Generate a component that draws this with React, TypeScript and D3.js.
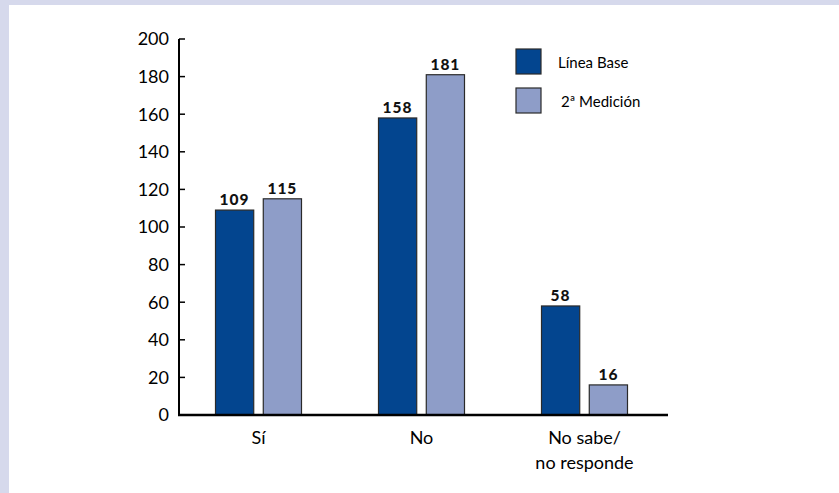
import React from "react";
import * as d3 from "d3";

const categories = ["Sí", "No", "No sabe/\nno responde"];
const seriesNames = ["Línea Base", "2ª Medición"];
const lineaBase = [109, 158, 58];
const segundaMedicion = [115, 181, 16];
const yTicks = [0, 20, 40, 60, 80, 100, 120, 140, 160, 180, 200];
const colors = ["#03458f", "#8e9dc8"];

const W = 839;
const H = 493;
const FONT = "Lato, 'Open Sans', sans-serif";

export default function App() {
  const axisX0 = 179;
  const axisX1 = 668;
  const y = d3.scaleLinear().domain([0, 200]).range([415, 39]);
  const x = d3.scaleBand<string>().domain(categories).range([177, 666]).paddingInner(0).paddingOuter(0);
  const inner = d3.scaleBand<number>().domain([0, 1]).range([-43, 43]).paddingInner(0.2);
  const series = [lineaBase, segundaMedicion];

  return (
    <svg width={W} height={H} style={{ position: "absolute", left: 0, top: 0 }}>
      <rect x={0} y={0} width={W} height={H} fill="#ffffff" />
      <rect x={0} y={0} width={W} height={5} fill="#d6d9ec" />
      <rect x={0} y={0} width={9} height={H} fill="#d6d9ec" />

      {series.map((vals, si) =>
        vals.map((v, ci) => {
          const cx = (x(categories[ci]) as number) + x.bandwidth() / 2;
          const bx = cx + (inner(si) as number);
          const bw = inner.bandwidth();
          return (
            <g key={`${si}-${ci}`}>
              <rect
                x={bx}
                y={y(v)}
                width={bw}
                height={y(0) - y(v)}
                fill={colors[si]}
                stroke="#2a2a2a"
                strokeWidth={1.2}
              />
              <text
                x={bx + bw / 2}
                y={y(v) - 5}
                textAnchor="middle"
                fontFamily={FONT}
                fontWeight={900}
                fontSize={15.5}
                letterSpacing={1}
                fill="#111"
              >
                {v}
              </text>
            </g>
          );
        })
      )}

      {/* y axis */}
      <line x1={axisX0} x2={axisX0} y1={y(200)} y2={y(0)} stroke="#000" strokeWidth={2} />
      {yTicks.map((t) => (
        <g key={t}>
          <line x1={axisX0} x2={axisX0 + 6} y1={y(t)} y2={y(t)} stroke="#000" strokeWidth={1.5} />
          <text
            x={169}
            y={y(t)}
            dy="0.36em"
            textAnchor="end"
            fontFamily={FONT}
            fontSize={18}
            fill="#000"
          >
            {t}
          </text>
        </g>
      ))}

      {/* x axis */}
      <line x1={axisX0 - 1} x2={axisX1} y1={y(0)} y2={y(0)} stroke="#000" strokeWidth={2.5} />
      {categories.map((c) => {
        const cx = (x(c) as number) + x.bandwidth() / 2;
        const lines = c.split("\n");
        return (
          <text key={c} textAnchor="middle" fontFamily={FONT} fontSize={18} fill="#000">
            {lines.map((l, i) => (
              <tspan key={i} x={cx} y={444 + i * 25}>
                {l}
              </tspan>
            ))}
          </text>
        );
      })}

      {/* legend */}
      {seriesNames.map((n, i) => (
        <g key={n}>
          <rect
            x={516}
            y={49 + i * 39}
            width={25}
            height={25}
            fill={colors[i]}
            stroke="#2a2a2a"
            strokeWidth={1.2}
          />
          <text
            x={i === 0 ? 558 : 561}
            y={68 + i * 39}
            fontFamily={FONT}
            fontSize={15}
            fill="#000"
          >
            {n}
          </text>
        </g>
      ))}
    </svg>
  );
}
